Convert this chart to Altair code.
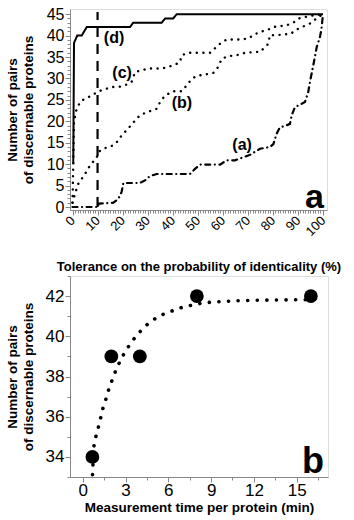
import altair as alt
import pandas as pd

FONT = "Liberation Sans"

# ---------------- Panel a: number of discernable pairs vs tolerance ----------------
d_x = [0.3, 0.6, 1.9, 3.7, 5.7, 23.0, 24.2, 35.6, 37.0, 40.2, 41.6, 100]
d_y = [10.0, 38.3, 40, 40, 42, 42, 43, 43, 44, 44, 45, 45]

c_x = [0, 0.3, 0.6, 1.5, 3, 5, 7.7, 10.3, 13, 15.6, 18.3, 21, 23.6, 25, 27.6, 30.3, 33,
       35.6, 38.2, 40.9, 42.9, 43.6, 46.2, 54.9, 58.9, 61.6, 66.9, 70.2, 72.2, 74.9, 77.5,
       80.2, 85.5, 88.1, 90.8, 96.1, 100]
c_y = [1, 10, 20, 22.5, 24.5, 25.3, 26, 27, 27.5, 28, 28, 28.4, 29.2, 31.5, 31.9, 32.3, 32.3,
       32.3, 32.7, 33.2, 33.8, 35.4, 36, 36, 38.1, 39.1, 39.1, 39.3, 40.1, 40.9, 41.2,
       42, 42.4, 43, 44.1, 44.7, 45]

b_x = [0, 1, 2.3, 5, 7, 9.7, 10.3, 12.3, 16.3, 18.3, 19.6, 21.6, 25, 26.9, 29.6, 33.6, 35,
       36.9, 40.2, 43.6, 45.6, 47.6, 49.6, 52.9, 56.2, 58.2, 59.6, 62.2, 65.5, 68.9, 74.9,
       78.2, 78.8, 81.5, 87, 90.1, 94.8, 98.1, 100]
b_y = [1, 3.1, 5.4, 7.7, 9.7, 11.6, 12.8, 13.6, 14.4, 15.5, 16.7, 17.9, 20.2, 21.4, 22.1, 22.9, 24.5,
       26, 27, 27, 28.4, 29.9, 30.6, 30.9, 31.3, 32.7, 34.6, 35.2, 35.4, 36, 36.2,
       38.1, 40.1, 40.1, 40.4, 41.6, 42.8, 44.3, 45]

a_x = [0, 10.3, 10.5, 16.3, 18.3, 19.6, 20.3, 26.9, 28.9, 30.9, 33.6, 46.9, 48.9, 50.9, 58.9,
       61.6, 64.9, 68.2, 70.9, 74.9, 78.8, 80.2, 81.5, 82.8, 84.8, 86.8, 87.5, 88.8, 91.5,
       92.8, 94.1, 94.8, 96.1, 97.5, 98.8, 99.4, 100]
a_y = [0, 0, 0.8, 1, 1.9, 3.5, 5.6, 5.6, 6.2, 7.2, 7.7, 7.7, 8.9, 9.9, 9.9,
       10.9, 10.9, 11.6, 12.2, 13.6, 14, 14.7, 17.1, 18.6, 18.9, 19.4, 21.4, 23.3, 24.1,
       24.5, 26.8, 29.2, 33, 37.3, 39.7, 41.6, 45]

threshold_x = [10]
threshold_y = [0]
threshold_y2 = [45.5]

curve_names = ["(d)", "(c)", "(b)", "(a)"]
label_x = [16.6, 19.8, 43.7, 67.7]
label_y = [39.4, 31.3, 24.3, 14.4]

# ---------------- Panel b: discernable pairs vs measurement time ----------------
time_min = [0.67, 2, 4, 8, 16]
pairs = [34, 39, 39, 42, 42]

fit_t = [0.68, 0.77, 0.9, 1.07, 1.24, 1.38, 1.59, 1.78, 2.01, 2.27, 2.55, 2.9, 3.3, 3.79,
         4.42, 5.07, 5.75, 6.43, 7.08, 7.74, 8.41, 9.06, 10, 11, 12, 13, 14, 15, 16]
fit_n = [33.12, 34.5, 34.97, 35.42, 35.9, 36.35, 36.8, 37.28, 37.74, 38.23, 38.67, 39.15, 39.6,
         40.06, 40.53, 40.88, 41.14, 41.3, 41.47, 41.56, 41.66, 41.7, 41.74, 41.77, 41.79,
         41.8, 41.81, 41.82, 41.82]


def curve(xs, ys):
    return pd.DataFrame({"x": xs, "y": ys, "o": list(range(len(xs)))})


WA, HA = 257, 201
WB, HB = 258, 201

xa = alt.X(
    "x:Q",
    scale=alt.Scale(domain=[-1, 101.6], nice=False, zero=False),
    axis=alt.Axis(
        title="Tolerance on the probability of identicality (%)",
        values=list(range(0, 101)),
        labelExpr="datum.value % 10 === 0 ? datum.label : ''",
        tickSize={"condition": {"test": "datum.value % 10 === 0", "value": 5}, "value": 3},
        grid=False,
        labelAngle=315,
        labelAlign="right",
        labelBaseline="middle",
        labelFontSize=13,
        labelPadding=3,
        labelOverlap=False,
        titlePadding=22,
        titleFontSize=13,
    ),
)
ya = alt.Y(
    "y:Q",
    scale=alt.Scale(domain=[-0.7, 46.2], nice=False, zero=False),
    axis=alt.Axis(
        title=["Number of pairs", "of discernable proteins"],
        values=list(range(0, 46)),
        labelExpr="datum.value % 5 === 0 ? datum.label : ''",
        tickSize={"condition": {"test": "datum.value % 5 === 0", "value": 5}, "value": 3},
        grid=False,
        labelFontSize=16,
        labelPadding=1,
        labelOverlap=False,
        titlePadding=11,
        titleFontSize=13.5,
        titleLineHeight=16,
    ),
)

line_d = alt.Chart(curve(d_x, d_y)).mark_line(color="black", strokeWidth=2).encode(
    x=xa, y=ya, order="o:Q")
line_c = alt.Chart(curve(c_x, c_y)).mark_line(
    color="black", strokeWidth=2.4, strokeDash=[0.1, 6.5], strokeCap="round").encode(
    x=xa, y=ya, order="o:Q")
line_b = alt.Chart(curve(b_x, b_y)).mark_line(
    color="black", strokeWidth=2.4, strokeDash=[0.1, 6.5], strokeCap="round").encode(
    x=xa, y=ya, order="o:Q")
line_a = alt.Chart(curve(a_x, a_y)).mark_line(
    color="black", strokeWidth=2.2, strokeDash=[5, 4.5, 0.1, 4.5], strokeCap="round").encode(
    x=xa, y=ya, order="o:Q")
vline = alt.Chart(pd.DataFrame({"x": threshold_x, "y": threshold_y, "y2": threshold_y2})).mark_rule(
    color="black", strokeWidth=2.2, strokeDash=[10, 7]).encode(x=xa, y=ya, y2="y2:Q")
labels_a = alt.Chart(pd.DataFrame({"x": label_x, "y": label_y, "t": curve_names})).mark_text(
    font=FONT, fontWeight="bold", fontSize=16, color="black").encode(x=xa, y=ya, text="t:N")
big_a = alt.Chart(pd.DataFrame({"t": ["a"]})).mark_text(
    font=FONT, fontWeight="bold", fontSize=34, color="black", align="right", baseline="alphabetic"
).encode(x=alt.value(WA - 3), y=alt.value(HA - 2), text="t:N")

panel_a = alt.layer(vline, line_a, line_b, line_c, line_d, labels_a, big_a).properties(
    width=WA, height=HA)

# panel b
xb = alt.X(
    "t:Q",
    scale=alt.Scale(domain=[-0.9, 17.2], nice=False, zero=False),
    axis=alt.Axis(
        title="Measurement time per protein (min)",
        values=[0, 1.5, 3, 4.5, 6, 7.5, 9, 10.5, 12, 13.5, 15, 16.5],
        labelExpr="datum.value % 3 === 0 ? datum.label : ''",
        tickSize={"condition": {"test": "datum.value % 3 === 0", "value": 5}, "value": 3},
        grid=False,
        labelFontSize=17,
        labelPadding=0,
        labelOverlap=False,
        titlePadding=2,
        titleFontSize=13.5,
    ),
)
yb = alt.Y(
    "n:Q",
    scale=alt.Scale(domain=[33, 43], nice=False, zero=False),
    axis=alt.Axis(
        title=["Number of pairs", "of discernable proteins"],
        values=list(range(33, 44)),
        labelExpr="datum.value % 2 === 0 ? datum.label : ''",
        tickSize={"condition": {"test": "datum.value % 2 === 0", "value": 5}, "value": 3},
        grid=False,
        labelFontSize=17,
        labelPadding=1,
        labelOverlap=False,
        titlePadding=10,
        titleFontSize=13.5,
        titleLineHeight=16,
    ),
)

fit = alt.Chart(pd.DataFrame({"t": fit_t, "n": fit_n, "o": list(range(len(fit_t)))})).mark_line(
    color="black", strokeWidth=3.6, strokeDash=[0.1, 9.5], strokeCap="round").encode(
    x=xb, y=yb, order="o:Q")
pts = alt.Chart(pd.DataFrame({"t": time_min, "n": pairs})).mark_circle(
    color="black", opacity=1, size=190).encode(x=xb, y=yb)
big_b = alt.Chart(pd.DataFrame({"t": ["b"]})).mark_text(
    font=FONT, fontWeight="bold", fontSize=36, color="black", align="right", baseline="alphabetic"
).encode(x=alt.value(WB - 4), y=alt.value(HB - 4), text="t:N")

panel_b = alt.layer(fit, pts, big_b).properties(width=WB, height=HB)

chart = alt.vconcat(panel_a, panel_b, spacing=-8).properties(
    padding={"left": 4, "top": 5, "right": 2, "bottom": 2}
).configure_view(
    stroke="black", strokeWidth=2.2
).configure_axis(
    domainColor="black", domainWidth=2.2, tickColor="black", tickWidth=1.5,
    labelFont=FONT, labelFontWeight="bold", labelColor="black",
    titleFont=FONT, titleFontWeight="bold", titleColor="black", grid=False,
).configure(background="white")

chart.save("out.html", embed_options={"renderer": "svg", "actions": False})
